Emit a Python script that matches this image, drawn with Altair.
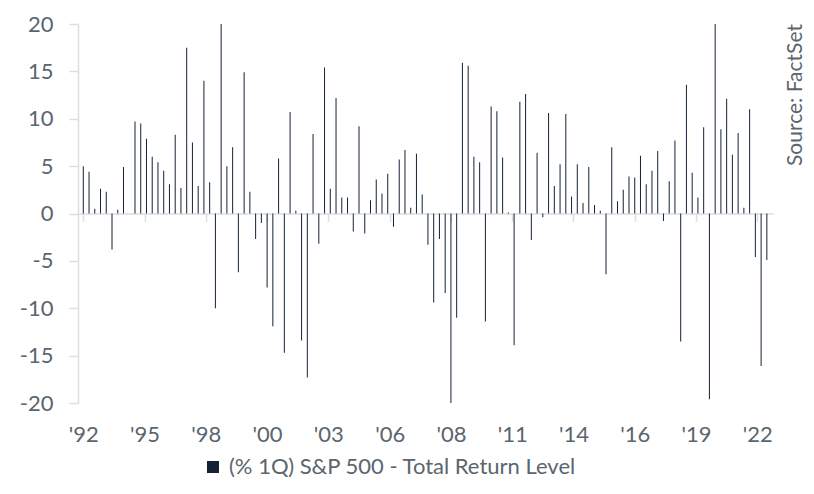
import json
import altair as alt
import pandas as pd

# Quarterly S&P 500 total return (%), 1992Q4 .. 2022Q3
quarters = [f"{y}Q{q}" for y in range(1992, 2023) for q in range(1, 5)]
quarters = quarters[3:3 + 120]
returns = [
    5.0,                          # 1992Q4
    4.4, 0.5, 2.6, 2.3,           # 1993
    -3.8, 0.4, 4.9, 0.0,          # 1994
    9.7, 9.5, 7.9, 6.0,           # 1995
    5.4, 4.5, 3.1, 8.3,           # 1996
    2.7, 17.5, 7.5, 2.9,          # 1997
    14.0, 3.3, -10.0, 21.3,       # 1998
    5.0, 7.0, -6.2, 14.9,         # 1999
    2.3, -2.7, -1.0, -7.8,        # 2000
    -11.9, 5.8, -14.7, 10.7,      # 2001
    0.3, -13.4, -17.3, 8.4,       # 2002
    -3.2, 15.4, 2.6, 12.2,        # 2003
    1.7, 1.7, -1.9, 9.2,          # 2004
    -2.1, 1.4, 3.6, 2.1,          # 2005
    4.2, -1.4, 5.7, 6.7,          # 2006
    0.6, 6.3, 2.0, -3.3,          # 2007
    -9.4, -2.7, -8.4, -21.9,      # 2008
    -11.0, 15.9, 15.6, 6.0,       # 2009
    5.4, -11.4, 11.3, 10.8,       # 2010
    5.9, 0.1, -13.9, 11.8,        # 2011
    12.6, -2.8, 6.4, -0.4,        # 2012
    10.6, 2.9, 5.2, 10.5,         # 2013
    1.8, 5.2, 1.1, 4.9,           # 2014
    0.9, 0.3, -6.4, 7.0,          # 2015
    1.3, 2.5, 3.9, 3.8,           # 2016
    6.1, 3.1, 4.5, 6.6,           # 2017
    -0.8, 3.4, 7.7, -13.5,        # 2018
    13.6, 4.3, 1.7, 9.1,          # 2019
    -19.6, 20.5, 8.9, 12.1,       # 2020
    6.2, 8.5, 0.6, 11.0,          # 2021
    -4.6, -16.1, -4.9,            # 2022
]
series_name = "(% 1Q) S&P 500 -  Total Return Level"
source_text = "Source: FactSet"
x_labels = ["'92", "'95", "'98", "'00", "'03", "'06", "'08", "'11", "'14", "'16", "'19", "'22"]
y_ticks = [-20, -15, -10, -5, 0, 5, 10, 15, 20]

NAVY = "#132235"
GRAY_TXT = "#5a656e"
AXIS_GRAY = "#dcdee0"
FONT = "Lato"

W, H = 695, 379
tick_pos = [i * 32 / 3 for i in range(len(x_labels))]

df = pd.DataFrame({
    "idx": list(range(len(returns))),
    "quarter": quarters[:len(returns)],
    "ret": returns,
    "series": [series_name] * len(returns),
})

bars = alt.Chart(df).mark_bar(size=1, clip=True).encode(
    x=alt.X(
        "idx:Q",
        scale=alt.Scale(domain=[-0.05, 119.2], nice=False, zero=False),
        axis=alt.Axis(
            title=None,
            orient="bottom",
            offset=-H / 2,
            values=tick_pos,
            labelExpr=f"{json.dumps(x_labels)}[round(datum.value*3/32)]",
            labelFlush=False,
            labelOverlap=False,
            domain=True,
            domainColor=AXIS_GRAY,
            domainWidth=1.5,
            ticks=True,
            tickSize=8,
            tickColor=AXIS_GRAY,
            tickWidth=1.5,
            labelPadding=203,
            labelFont=FONT,
            labelFontSize=22,
            labelColor=GRAY_TXT,
            grid=False,
        ),
    ),
    y=alt.Y(
        "ret:Q",
        scale=alt.Scale(domain=[-20, 20], nice=False),
        axis=alt.Axis(
            title=None,
            values=y_ticks,
            labelExpr="'' + datum.value",
            domain=True,
            domainColor=AXIS_GRAY,
            domainWidth=1.5,
            ticks=True,
            tickSize=9,
            tickColor=AXIS_GRAY,
            tickWidth=1.5,
            labelPadding=16,
            labelFont=FONT,
            labelFontSize=22,
            labelColor=GRAY_TXT,
            grid=False,
        ),
    ),
    color=alt.Color(
        "series:N",
        scale=alt.Scale(range=[NAVY]),
        legend=alt.Legend(
            title=None,
            orient="none",
            legendX=124,
            legendY=432,
            padding=0,
            symbolType="square",
            symbolSize=144,
            symbolStrokeWidth=0,
            labelFont=FONT,
            labelFontSize=22,
            labelColor=GRAY_TXT,
            labelOffset=5,
            labelLimit=0,
        ),
    ),
)

source = alt.Chart(pd.DataFrame({"t": [source_text]})).mark_text(
    angle=270,
    align="center",
    baseline="middle",
    font=FONT,
    fontSize=21,
    color=GRAY_TXT,
).encode(
    text="t:N",
    x=alt.value(718),
    y=alt.value(71),
)

chart = alt.layer(bars, source).properties(
    width=W,
    height=H,
    autosize=alt.AutoSizeParams(type="none"),
    padding={"left": 70, "top": 16, "right": 33, "bottom": 79},
).configure_view(stroke=None)

chart.save("out.html", embed_options={"renderer": "svg", "actions": False})
